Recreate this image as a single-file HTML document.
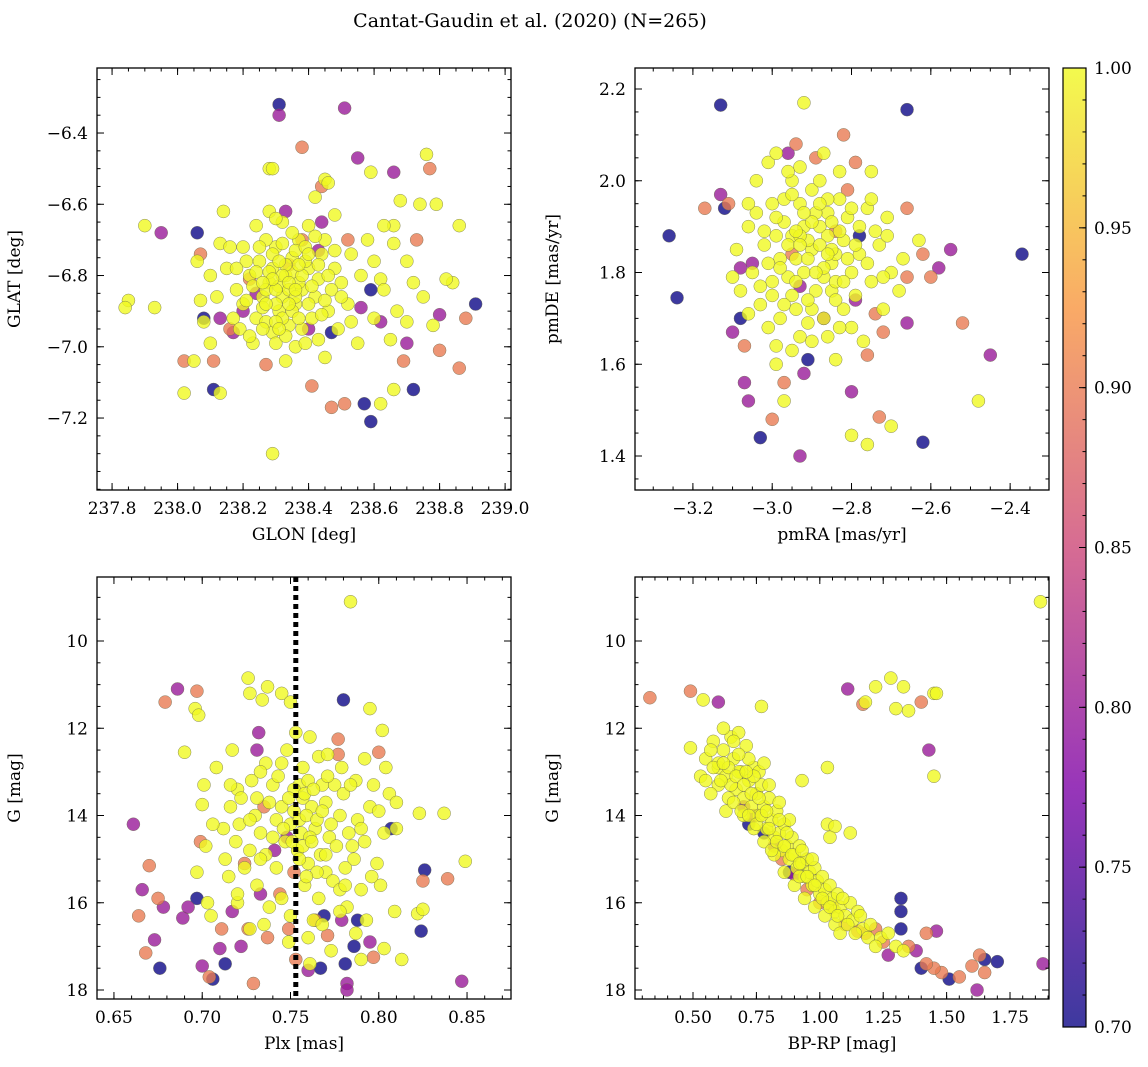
<!DOCTYPE html>
<html><head><meta charset="utf-8"><style>
html,body{margin:0;padding:0;background:#fff;}
svg{display:block;font-family:"DejaVu Serif","Liberation Serif",serif;}
</style></head><body>
<svg id="fig" width="1148" height="1067" viewBox="0 0 1148 1067" xmlns="http://www.w3.org/2000/svg">
<text x="530" y="27" font-size="19" text-anchor="middle">Cantat-Gaudin et al. (2020) (N=265)</text>
<defs><linearGradient id="cbg" x1="0" y1="1" x2="0" y2="0">
<stop offset="0" stop-color="#0d0887"/><stop offset="0.25" stop-color="#7e03a8"/><stop offset="0.5" stop-color="#cc4778"/><stop offset="0.75" stop-color="#f89540"/><stop offset="1" stop-color="#f0f921"/></linearGradient></defs>
</svg>
<script>
const panel1Stars=[[238.31,-6.32,0.7],[238.31,-6.35,0.8],[238.51,-6.33,0.8],[238.38,-6.44,0.9],[238.76,-6.46,1],[238.77,-6.50,0.9],[238.55,-6.47,0.8],[238.66,-6.51,0.8],[238.59,-6.51,1],[238.44,-6.55,0.9],[238.28,-6.50,1],[238.29,-6.50,1],[238.45,-6.53,1],[238.46,-6.54,1],[238.42,-6.58,1],[238.68,-6.59,1],[238.74,-6.60,1],[238.79,-6.60,1],[238.33,-6.62,0.8],[238.14,-6.62,1],[237.90,-6.66,1],[237.95,-6.68,0.8],[238.06,-6.68,0.7],[238.44,-6.65,0.8],[238.86,-6.66,1],[238.73,-6.70,0.9],[238.07,-6.74,0.9],[238.66,-6.66,1],[238.63,-6.66,1],[237.85,-6.87,1],[237.84,-6.89,1],[237.93,-6.89,1],[238.07,-6.87,1],[238.08,-6.92,0.7],[238.13,-6.92,0.8],[238.16,-6.95,0.9],[238.17,-6.96,0.8],[238.91,-6.88,0.7],[238.88,-6.92,0.9],[238.80,-6.91,0.8],[238.78,-6.94,1],[238.70,-6.93,1],[238.70,-6.99,0.8],[238.69,-7.04,0.9],[238.80,-7.01,0.9],[238.86,-7.06,0.9],[238.02,-7.04,0.9],[238.11,-7.04,0.9],[238.05,-7.04,1],[238.02,-7.13,1],[238.11,-7.12,0.7],[238.13,-7.13,1],[238.27,-7.05,0.9],[238.41,-7.11,0.9],[238.47,-7.17,0.9],[238.51,-7.16,0.9],[238.57,-7.16,0.7],[238.66,-7.12,1],[238.72,-7.12,0.7],[238.59,-7.21,0.7],[238.29,-7.30,1],[238.62,-7.16,1],[238.59,-6.84,0.7],[238.56,-6.89,0.8],[238.84,-6.82,1],[238.82,-6.81,1],[238.62,-6.81,1],[238.67,-6.90,1],[238.65,-6.98,1],
[238.30,-6.72,1],[238.35,-6.75,1],[238.40,-6.78,1],[238.33,-6.80,1],[238.28,-6.82,1],[238.38,-6.84,1],[238.42,-6.86,1],[238.36,-6.88,1],[238.31,-6.90,1],[238.26,-6.86,1],[238.22,-6.80,1],[238.25,-6.76,1],[238.44,-6.74,1],[238.48,-6.78,1],[238.50,-6.82,1],[238.46,-6.90,1],[238.41,-6.92,1],[238.34,-6.94,1],[238.29,-6.96,1],[238.24,-6.92,1],[238.20,-6.88,1],[238.18,-6.84,1],[238.15,-6.78,1],[238.20,-6.72,1],[238.27,-6.70,1],[238.37,-6.70,1],[238.45,-6.70,1],[238.53,-6.74,1],[238.56,-6.80,1],[238.52,-6.88,1],[238.49,-6.95,1],[238.43,-6.98,1],[238.36,-7.00,1],[238.30,-6.99,1],[238.23,-6.99,1],[238.17,-6.92,1],[238.12,-6.86,1],[238.10,-6.80,1],[238.13,-6.71,1],[238.24,-6.66,1],[238.32,-6.65,1],[238.40,-6.66,1],[238.48,-6.63,1],[238.58,-6.70,1],[238.60,-6.76,1],[238.63,-6.84,1],[238.60,-6.92,1],[238.55,-6.99,1],[238.45,-7.03,1],[238.33,-7.04,1],[238.27,-6.84,1],[238.32,-6.86,1],[238.37,-6.82,1],[238.35,-6.79,1],[238.29,-6.78,1],[238.39,-6.76,1],[238.31,-6.83,1],[238.34,-6.84,1],[238.26,-6.89,1],[238.40,-6.88,1],[238.43,-6.81,1],[238.33,-6.77,1],[238.30,-6.88,1],[238.36,-6.73,1],[238.21,-6.76,1],[238.47,-6.84,1],[238.32,-6.92,1],[238.38,-6.95,1],[238.19,-6.95,1],[238.53,-6.93,1],[238.66,-6.71,1],[238.70,-6.76,1],[238.72,-6.82,1],[238.75,-6.86,1],[238.16,-6.72,1],[238.06,-6.76,1],[238.08,-6.93,1],[238.10,-6.99,1],[238.28,-6.62,1],[238.30,-6.64,1],
[238.22,-6.81,0.9],[238.24,-6.85,0.8],[238.40,-6.95,0.8],[238.47,-6.96,0.7],[238.43,-6.73,0.8],[238.34,-6.77,0.9],[238.62,-6.93,0.8],[238.38,-6.70,0.9],[238.52,-6.70,0.9],[238.20,-6.90,0.8]];
const panel1Core=[[238.32,-6.80,1],[238.34,-6.82,1],[238.30,-6.84,1],[238.36,-6.86,1],[238.28,-6.79,1],[238.38,-6.80,1],[238.35,-6.90,1],[238.29,-6.74,1],[238.41,-6.83,1],[238.27,-6.93,1],[238.33,-6.97,1],[238.39,-6.72,1],[238.25,-6.72,1],[238.37,-6.92,1],[238.31,-6.76,1],[238.44,-6.91,1],[238.23,-6.83,1],[238.42,-6.69,1],[238.26,-6.95,1],[238.35,-6.68,1],[238.46,-6.80,1],[238.21,-6.87,1],[238.30,-6.93,1],[238.39,-6.99,1],[238.48,-6.73,1],[238.18,-6.78,1],[238.32,-6.71,1],[238.27,-6.88,1],[238.43,-6.77,1],[238.36,-6.84,1],[238.29,-6.81,1],[238.34,-6.88,1],[238.40,-6.74,1],[238.24,-6.79,1],[238.50,-6.86,1],[238.22,-6.97,1],[238.37,-6.77,1],[238.31,-6.95,1],[238.45,-6.87,1],[238.26,-6.82,1]];

const panel2Stars=[[-3.13,2.165,0.7],[-2.66,2.155,0.7],[-2.92,2.17,1],[-3.26,1.88,0.7],[-3.24,1.745,0.7],[-3.17,1.94,0.9],[-3.13,1.97,0.8],[-3.12,1.94,0.7],[-3.11,1.95,0.9],[-2.37,1.84,0.7],[-2.45,1.62,0.8],[-2.48,1.52,1],[-2.52,1.69,0.9],[-2.55,1.85,0.8],[-2.58,1.81,0.8],[-2.60,1.79,0.9],[-2.62,1.43,0.7],[-2.66,1.94,0.9],[-2.66,1.69,0.8],[-2.70,1.465,1],[-2.73,1.485,0.9],[-2.76,1.425,1],[-2.80,1.445,1],[-2.80,1.54,0.8],[-2.93,1.40,0.8],[-3.03,1.44,0.7],[-3.07,1.56,0.8],[-3.06,1.52,0.8],[-3.00,1.48,0.9],[-2.97,1.52,1],[-2.97,1.56,0.9],[-3.07,1.64,0.9],[-3.10,1.67,0.8],[-3.08,1.70,0.7],[-2.99,1.64,1],[-2.92,1.58,0.8],[-2.91,1.61,0.7],[-2.94,2.08,0.9],[-2.96,2.06,0.8],[-2.89,2.05,0.9],[-2.82,2.10,0.9],[-2.75,2.02,1],[-2.79,2.04,0.9],[-3.01,2.04,1],[-2.99,2.06,1],[-3.04,2.00,1],
[-2.90,1.85,1],[-2.95,1.88,1],[-2.85,1.82,1],[-2.88,1.90,1],[-2.92,1.80,1],[-2.82,1.87,1],[-2.98,1.83,1],[-2.86,1.93,1],[-2.93,1.95,1],[-2.80,1.80,1],[-3.00,1.78,1],[-2.95,1.75,1],[-2.85,1.76,1],[-2.78,1.90,1],[-2.83,1.96,1],[-2.90,1.98,1],[-2.97,1.91,1],[-3.02,1.86,1],[-3.05,1.80,1],[-3.03,1.73,1],[-2.98,1.70,1],[-2.90,1.72,1],[-2.82,1.72,1],[-2.75,1.78,1],[-2.73,1.86,1],[-2.76,1.94,1],[-2.88,2.00,1],[-2.95,2.00,1],[-3.00,1.95,1],[-3.06,1.90,1],[-3.08,1.76,1],[-2.93,1.66,1],[-2.86,1.66,1],[-2.80,1.68,1],[-2.72,1.72,1],[-2.70,1.80,1],[-2.71,1.88,1],[-2.84,1.84,1],[-2.91,1.87,1],[-2.87,1.79,1],[-2.94,1.83,1],[-2.89,1.93,1],[-2.81,1.92,1],[-2.96,1.79,1],[-3.01,1.82,1],[-2.99,1.88,1],[-2.86,1.88,1],[-2.78,1.84,1],[-2.92,1.90,1],[-2.84,1.78,1],[-2.97,1.96,1],[-3.04,1.93,1],[-2.79,1.75,1],[-2.87,1.70,1],[-2.94,1.72,1],[-3.01,1.68,1],[-2.77,1.65,1],[-2.71,1.92,1],[-2.68,1.76,1],[-2.67,1.83,1],[-3.09,1.85,1],[-3.10,1.79,1],[-2.95,1.63,1],[-2.84,1.61,1],[-2.75,1.96,1],[-2.83,2.02,1],[-2.93,2.03,1],[-3.06,1.71,1],[-2.63,1.87,1],[-2.99,1.60,1],
[-2.84,1.89,0.9],[-2.81,1.98,0.9],[-2.78,1.88,0.7],[-2.93,1.77,0.8],[-3.05,1.82,0.8],[-3.08,1.81,0.8],[-2.74,1.71,0.9],[-2.76,1.62,0.9],[-2.87,1.70,0.8],[-2.66,1.79,0.9],[-2.62,1.84,0.9],[-2.95,1.84,0.9],[-2.72,1.67,0.9],[-2.79,1.74,0.8]];
const panel2Core=[[-2.91,1.83,1],[-2.88,1.86,1],[-2.85,1.85,1],[-2.93,1.88,1],[-2.87,1.81,1],[-2.96,1.86,1],[-2.83,1.89,1],[-2.90,1.91,1],[-2.94,1.78,1],[-2.81,1.83,1],[-2.89,1.76,1],[-2.98,1.81,1],[-2.86,1.96,1],[-2.92,1.93,1],[-2.79,1.86,1],[-3.02,1.89,1],[-2.84,1.74,1],[-2.97,1.73,1],[-2.91,1.69,1],[-2.76,1.82,1],[-2.88,1.95,1],[-2.95,1.97,1],[-2.82,1.78,1],[-3.00,1.75,1],[-2.86,1.84,1],[-2.93,1.86,1],[-2.89,1.80,1],[-2.80,1.94,1],[-3.03,1.77,1],[-2.74,1.89,1],[-2.85,1.91,1],[-2.99,1.92,1],[-2.90,1.65,1],[-2.83,1.68,1],[-2.96,2.02,1],[-2.87,2.06,1],[-3.06,1.95,1],[-2.72,1.79,1],[-2.91,1.74,1],[-2.94,1.89,1]];

const panel3Stars=[[0.784,9.1,1],[0.726,10.85,1],[0.737,11.05,1],[0.734,11.35,1],[0.727,11.2,1],[0.745,11.2,1],[0.75,11.4,1],[0.696,11.55,1],[0.698,11.7,1],[0.795,11.55,1],[0.802,12.05,1],[0.761,12.2,1],[0.748,12.5,1],[0.753,12.1,1],[0.717,12.5,1],[0.69,12.55,1],[0.766,12.65,1],[0.771,12.6,1],[0.792,12.7,1],[0.804,12.9,1],[0.779,12.9,1],[0.736,12.8,1],[0.701,13.3,1],[0.72,13.4,1],[0.728,13.2,1],[0.733,13.0,1],[0.74,13.3,1],[0.755,13.3,1],[0.76,13.2,1],[0.768,13.3,1],[0.775,13.3,1],[0.787,13.2,1],[0.797,13.3,1],[0.806,13.5,1],[0.7,13.75,1],[0.716,13.8,1],[0.722,13.6,1],[0.73,14.0,1],[0.738,13.7,1],[0.745,13.8,1],[0.752,13.9,1],[0.757,13.6,1],[0.762,13.8,1],[0.77,13.7,1],[0.778,14.0,1],[0.788,14.1,1],[0.795,13.8,1],[0.81,14.3,1],[0.823,13.95,1],[0.837,13.95,1],[0.712,14.3,1],[0.721,14.2,1],[0.733,14.4,1],[0.742,14.1,1],[0.75,14.2,1],[0.756,14.4,1],[0.764,14.3,1],[0.772,14.5,1],[0.783,14.4,1],[0.792,14.6,1],[0.803,14.4,1],[0.702,14.7,1],[0.719,14.6,1],[0.727,14.8,1],[0.736,14.9,1],[0.747,14.6,1],[0.754,14.8,1],[0.767,14.9,1],[0.776,14.7,1],[0.786,15.0,1],[0.799,15.1,1],[0.713,15.0,1],[0.724,15.2,1],[0.742,15.2,1],[0.76,15.1,1],[0.77,15.3,1],[0.781,15.2,1],[0.715,15.4,1],[0.731,15.6,1],[0.758,15.6,1],[0.774,15.5,1],[0.79,15.7,1],[0.801,15.6,1],[0.745,15.9,1],[0.766,15.9,1],[0.778,15.7,1],[0.703,16.0,1],[0.72,16.0,1],[0.738,16.1,1],[0.75,16.3,1],[0.763,16.4,1],[0.782,16.1,1],[0.793,16.4,1],[0.809,16.2,1],[0.822,16.25,1],[0.825,16.15,1],[0.849,15.05,1],[0.705,16.3,1],[0.735,16.5,1],[0.768,16.5,1],[0.787,16.7,1],[0.727,16.6,1],[0.749,16.9,1],[0.773,17.1,1],[0.803,17.05,1],[0.79,17.3,1],[0.761,17.4,1],[0.813,17.3,1],[0.697,15.3,1],[0.708,12.9,1],[0.743,13.1,1],[0.757,12.9,1],[0.781,15.6,1],[0.761,14.5,1],
[0.661,14.2,0.8],[0.664,16.3,0.9],[0.666,15.7,0.8],[0.668,17.15,0.9],[0.67,15.15,0.9],[0.673,16.85,0.8],[0.675,15.9,0.9],[0.676,17.5,0.7],[0.678,16.1,0.8],[0.679,11.4,0.9],[0.686,11.1,0.8],[0.689,16.35,0.8],[0.692,16.1,0.8],[0.697,11.15,0.9],[0.699,14.6,0.9],[0.697,15.9,0.7],[0.7,17.45,0.8],[0.704,17.7,0.9],[0.706,17.75,0.7],[0.711,16.6,0.9],[0.71,17.05,0.8],[0.713,17.4,0.7],[0.717,16.2,0.8],[0.722,17.0,0.8],[0.724,15.1,0.9],[0.726,16.6,0.9],[0.729,17.85,0.9],[0.732,12.1,0.8],[0.731,12.5,0.8],[0.733,15.8,0.8],[0.735,13.8,0.9],[0.741,14.8,0.8],[0.744,15.8,0.9],[0.748,14.5,0.8],[0.749,16.6,0.9],[0.752,15.3,0.9],[0.753,17.3,0.9],[0.76,17.55,0.8],[0.764,16.4,0.9],[0.767,17.5,0.7],[0.771,16.75,0.9],[0.777,12.6,0.9],[0.777,12.25,0.9],[0.78,11.35,0.7],[0.779,16.4,0.8],[0.781,17.4,0.7],[0.782,17.85,0.8],[0.782,18.0,0.8],[0.786,17.0,0.7],[0.788,16.4,0.7],[0.795,16.9,0.8],[0.797,17.25,0.9],[0.8,12.55,0.9],[0.807,14.3,0.7],[0.824,16.65,0.7],[0.826,15.25,0.7],[0.825,15.5,0.9],[0.839,15.45,0.9],[0.847,17.8,0.8],[0.769,16.3,0.7],[0.737,16.8,0.9]];
const panel3Core=[[0.752,13.4,1],[0.758,13.5,1],[0.763,13.4,1],[0.749,13.6,1],[0.755,14.1,1],[0.759,14.0,1],[0.765,14.1,1],[0.768,13.9,1],[0.773,14.2,1],[0.751,14.6,1],[0.757,14.7,1],[0.762,14.6,1],[0.78,13.5,1],[0.784,13.3,1],[0.746,14.3,1],[0.74,14.5,1],[0.765,15.3,1],[0.77,14.9,1],[0.755,15.0,1],[0.759,15.4,1],[0.785,14.7,1],[0.79,14.3,1],[0.727,14.1,1],[0.716,13.3,1],[0.796,15.4,1],[0.733,15.0,1],[0.72,15.8,1],[0.778,16.2,1],[0.76,16.8,1],[0.8,13.9,1],[0.81,13.7,1],[0.745,12.8,1],[0.771,13.1,1],[0.731,13.6,1],[0.706,14.2,1]];

const panel4Stars=[[0.55,12.7,1],[0.58,12.3,1],[0.6,12.9,1],[0.62,12.5,1],[0.63,13.1,1],[0.65,12.2,1],[0.66,12.7,1],[0.67,13.4,1],[0.68,12.1,1],[0.69,13.0,1],[0.7,13.6,1],[0.71,12.4,1],[0.72,13.2,1],[0.73,13.8,1],[0.74,12.9,1],[0.75,13.5,1],[0.76,14.0,1],[0.77,13.3,1],[0.78,13.8,1],[0.79,14.3,1],[0.8,13.6,1],[0.81,14.1,1],[0.82,14.5,1],[0.83,13.9,1],[0.84,14.4,1],[0.85,14.8,1],[0.86,14.2,1],[0.87,14.7,1],[0.88,15.0,1],[0.89,14.5,1],[0.9,14.9,1],[0.91,15.2,1],[0.92,14.7,1],[0.93,15.1,1],[0.94,15.4,1],[0.95,15.0,1],[0.96,15.3,1],[0.97,15.6,1],[0.98,15.2,1],[0.99,15.5,1],[1.0,15.8,1],[1.01,15.4,1],[1.02,15.7,1],[1.03,16.0,1],[1.04,15.6,1],[1.05,15.9,1],[1.06,16.2,1],[1.07,15.8,1],[1.08,16.1,1],[1.1,16.3,1],[1.12,16.0,1],[1.13,16.4,1],[1.15,16.2,1],[1.17,16.6,1],[1.2,16.5,1],[1.24,16.8,1],[1.27,16.7,1],[1.3,17.0,1],[1.33,17.1,1],[0.64,13.6,1],[0.6,13.3,1],[0.57,13.5,1],[0.53,13.1,1],[0.55,13.2,1],[0.7,14.0,1],[0.74,14.3,1],[0.78,14.6,1],[0.82,14.9,1],[0.86,15.3,1],[0.9,15.6,1],[0.94,15.9,1],[0.98,16.1,1],[1.02,16.3,1],[1.06,16.5,1],[0.62,12.0,1],[0.66,12.3,1],[0.72,12.7,1],[0.76,13.0,1],[0.8,13.3,1],[0.84,13.7,1],[0.88,14.1,1],[0.6,12.8,1],[0.65,13.3,1],[0.63,13.9,1],[0.68,13.0,1],[0.81,14.8,1],[0.92,15.4,1],[1.08,16.7,1],
[1.87,9.1,1],[1.22,11.05,1],[1.28,10.85,1],[1.33,11.05,1],[1.30,11.55,1],[1.35,11.6,1],[1.18,11.4,1],[1.45,11.2,1],[1.46,11.2,1],[0.77,11.5,1],[0.54,11.35,1],[1.45,13.1,1],[1.03,12.9,1],[0.93,13.2,1],[0.49,12.45,1],[1.03,14.2,1],[1.06,14.25,1],[1.04,14.5,1],[0.78,12.8,1],[1.12,14.4,1],
[0.33,11.3,0.9],[0.49,11.15,0.9],[0.6,11.4,0.8],[1.11,11.1,0.8],[1.17,11.45,0.9],[1.40,11.4,0.9],[1.43,12.5,0.8],[1.88,17.4,0.8],[1.62,18.0,0.8],[1.6,17.45,0.9],[1.63,17.2,0.9],[1.65,17.3,0.7],[1.7,17.35,0.7],[1.65,17.6,0.9],[1.55,17.7,0.9],[1.51,17.75,0.7],[1.48,17.6,0.9],[1.45,17.5,0.9],[1.42,17.4,0.9],[1.4,17.5,0.7],[1.46,16.65,0.8],[1.42,16.7,0.9],[1.38,17.1,0.8],[1.35,17.0,0.9],[1.32,16.6,0.7],[1.32,16.2,0.7],[1.32,15.9,0.7],[1.25,16.9,0.9],[1.22,16.6,0.9],[1.18,16.7,0.9],[1.27,17.2,0.8],[1.15,16.65,0.9],[1.1,16.5,0.9],[1.0,16.0,0.9],[0.95,15.7,0.9],[0.9,15.35,0.8],[0.85,15.0,0.9],[0.82,14.7,0.8],[0.78,14.4,0.7],[0.74,14.0,0.8],[0.72,14.2,0.7],[0.7,13.8,0.8],[0.88,15.3,0.7],[1.05,16.1,0.9]];
const panel4Core=[[0.58,12.9,1],[0.61,13.2,1],[0.64,12.9,1],[0.67,13.1,1],[0.7,13.3,1],[0.73,13.5,1],[0.66,13.7,1],[0.69,13.9,1],[0.72,14.0,1],[0.75,14.2,1],[0.77,14.0,1],[0.8,14.3,1],[0.83,14.6,1],[0.86,14.7,1],[0.89,14.9,1],[0.92,15.1,1],[0.95,15.4,1],[0.98,15.6,1],[1.01,15.9,1],[1.04,16.1,1],[1.07,16.3,1],[1.11,16.5,1],[1.14,16.7,1],[1.19,16.8,1],[1.22,17.0,1],[0.57,12.5,1],[0.62,12.8,1],[0.68,12.6,1],[0.74,13.1,1],[0.76,13.6,1],[0.71,13.0,1],[0.79,13.9,1],[0.84,14.1,1],[0.87,14.4,1],[0.93,14.8,1],[0.97,15.0,1],[1.09,15.9,1],[1.16,16.3,1]];

const p1XTicks=[237.8,238.0,238.2,238.4,238.6,238.8,239.0];
const p1YTicks=[-6.4,-6.6,-6.8,-7.0,-7.2];
const p2XTicks=[-3.2,-3.0,-2.8,-2.6,-2.4];
const p2YTicks=[1.4,1.6,1.8,2.0,2.2];
const p3XTicks=[0.65,0.70,0.75,0.80,0.85];
const gTicks=[10,12,14,16,18];
const p4XTicks=[0.50,0.75,1.00,1.25,1.50,1.75];
const cbTicks=[0.70,0.75,0.80,0.85,0.90,0.95,1.00];
const plxLine=[0.753];

const NS="http://www.w3.org/2000/svg";
const svg=document.getElementById('fig');
function mk(tag,attrs,parent){const e=document.createElementNS(NS,tag);for(const k in attrs)e.setAttribute(k,attrs[k]);(parent||svg).appendChild(e);return e;}
const stops=[[0,[13,8,135]],[0.25,[126,3,168]],[0.5,[204,71,120]],[0.75,[248,149,64]],[1,[240,249,33]]];
function plasma(t){t=Math.max(0,Math.min(1,t));for(let i=0;i<stops.length-1;i++){const a=stops[i],b=stops[i+1];if(t<=b[0]){const f=(t-a[0])/(b[0]-a[0]);const c=a[1].map((v,j)=>Math.round(v+(b[1][j]-v)*f));return `rgb(${c[0]},${c[1]},${c[2]})`;}}return 'rgb(240,249,33)';}
function fmt(v,d){const s=Math.abs(v).toFixed(d);return (v<0?'\u2212':'')+s;}

function panel(name,box,xr,yr,xt,xminStep,yt,yminStep,xd,yd,stars,xlabel,ylabel,flipY){
  const g=mk('g',{});
  
  
  const sx=v=>box.x+(v-xr[0])/(xr[1]-xr[0])*box.w;
  const sy=flipY?(v=>box.y+(v-yr[0])/(yr[1]-yr[0])*box.h):(v=>box.y+(yr[1]-v)/(yr[1]-yr[0])*box.h);
  const sorted=stars.slice().sort((a,b)=>a[2]-b[2]);
  const pts=mk('g',{},g);
  
  
  sorted.forEach(s=>{
    const c=mk('circle',{cx:sx(s[0]),cy:sy(s[1]),r:6.5,fill:plasma((s[2]-0.7)/0.3),'fill-opacity':0.8,stroke:'#6b6b50','stroke-width':0.5,'stroke-opacity':0.8},pts);
    
    
  });
  const fr=mk('rect',{x:box.x,y:box.y,width:box.w,height:box.h,fill:'none',stroke:'#000','stroke-width':1.3},g);
  
  
  const tk=mk('g',{stroke:'#000','stroke-width':1},g);
  let start=Math.ceil(xr[0]/xminStep-1e-6);
  for(let i=start;i*xminStep<=xr[1]+1e-9;i++){const x=sx(i*xminStep);mk('line',{x1:x,x2:x,y1:box.y+box.h,y2:box.y+box.h-3.5},tk);mk('line',{x1:x,x2:x,y1:box.y,y2:box.y+3.5},tk);}
  start=Math.ceil(yr[0]/yminStep-1e-6);
  for(let i=start;i*yminStep<=yr[1]+1e-9;i++){const y=sy(i*yminStep);mk('line',{x1:box.x,x2:box.x+3.5,y1:y,y2:y},tk);mk('line',{x1:box.x+box.w,x2:box.x+box.w-3.5,y1:y,y2:y},tk);}
  xt.forEach(v=>{const x=sx(v);mk('line',{x1:x,x2:x,y1:box.y+box.h,y2:box.y+box.h-7},tk);mk('line',{x1:x,x2:x,y1:box.y,y2:box.y+7},tk);
    const t=mk('text',{x:x,y:box.y+box.h+24,'font-size':17,'text-anchor':'middle'},g);t.textContent=fmt(v,xd);
    
    });
  yt.forEach(v=>{const y=sy(v);mk('line',{x1:box.x,x2:box.x+7,y1:y,y2:y},tk);mk('line',{x1:box.x+box.w,x2:box.x+box.w-7,y1:y,y2:y},tk);
    const t=mk('text',{x:box.x-9,y:y+6,'font-size':17,'text-anchor':'end'},g);t.textContent=fmt(v,yd);
    
    });
  const xl=mk('text',{x:box.x+box.w/2,y:box.y+box.h+50,'font-size':17,'text-anchor':'middle'},g);xl.textContent=xlabel;
  
  
  const cx=box.x-77,cy=box.y+box.h/2;
  const yl=mk('text',{x:cx,y:cy,'font-size':17,'text-anchor':'middle',transform:`rotate(-90 ${cx} ${cy})`},g);yl.textContent=ylabel;
  
  
  return {sx,sy,g};
}
panel('glon-glat-panel',{x:97,y:68,w:414,h:422},[237.754,239.018],[-7.402,-6.2175],p1XTicks,0.05,p1YTicks,0.05,1,1,panel1Stars.concat(panel1Core),'GLON [deg]','GLAT [deg]',false);
panel('proper-motion-panel',{x:635,y:68,w:414,h:422},[-3.346,-2.302],[1.3259,2.2458],p2XTicks,0.05,p2YTicks,0.05,1,1,panel2Stars.concat(panel2Core),'pmRA [mas/yr]','pmDE [mas/yr]',false);
const p3=panel('parallax-panel',{x:97,y:577,w:414,h:422},[0.6404,0.8749],[8.533,18.206],p3XTicks,0.01,gTicks,0.5,2,0,panel3Stars.concat(panel3Core),'Plx [mas]','G [mag]',true);
panel('cmd-panel',{x:635,y:577,w:414,h:422},[0.2713,1.9037],[8.533,18.206],p4XTicks,0.05,gTicks,0.5,2,0,panel4Stars.concat(panel4Core),'BP-RP [mag]','G [mag]',true);
plxLine.forEach(v=>{const l=mk('line',{x1:p3.sx(v),x2:p3.sx(v),y1:577,y2:999,stroke:'#000','stroke-width':5,'stroke-dasharray':'5 4'},p3.g);
  
  });
const cb=mk('g',{});


const cbx=1063,cbw=23,cby=68,cbh=959;
const cbr=mk('rect',{x:cbx,y:cby,width:cbw,height:cbh,fill:'url(#cbg)','fill-opacity':0.8},cb);


mk('rect',{x:cbx,y:cby,width:cbw,height:cbh,fill:'none',stroke:'#000','stroke-width':1.2},cb);
const cyf=v=>cby+(1-(v-0.7)/0.3)*cbh;
for(let i=70;i<=100;i++){const y=cyf(i/100);mk('line',{x1:cbx+cbw,x2:cbx+cbw-3.5,y1:y,y2:y,stroke:'#000'},cb);}
cbTicks.forEach(v=>{const y=cyf(v);mk('line',{x1:cbx+cbw,x2:cbx+cbw-7,y1:y,y2:y,stroke:'#000'},cb);
  const t=mk('text',{x:cbx+cbw+8,y:y+6,'font-size':17},cb);t.textContent=v.toFixed(2);
  
  });
</script>
</body></html>
